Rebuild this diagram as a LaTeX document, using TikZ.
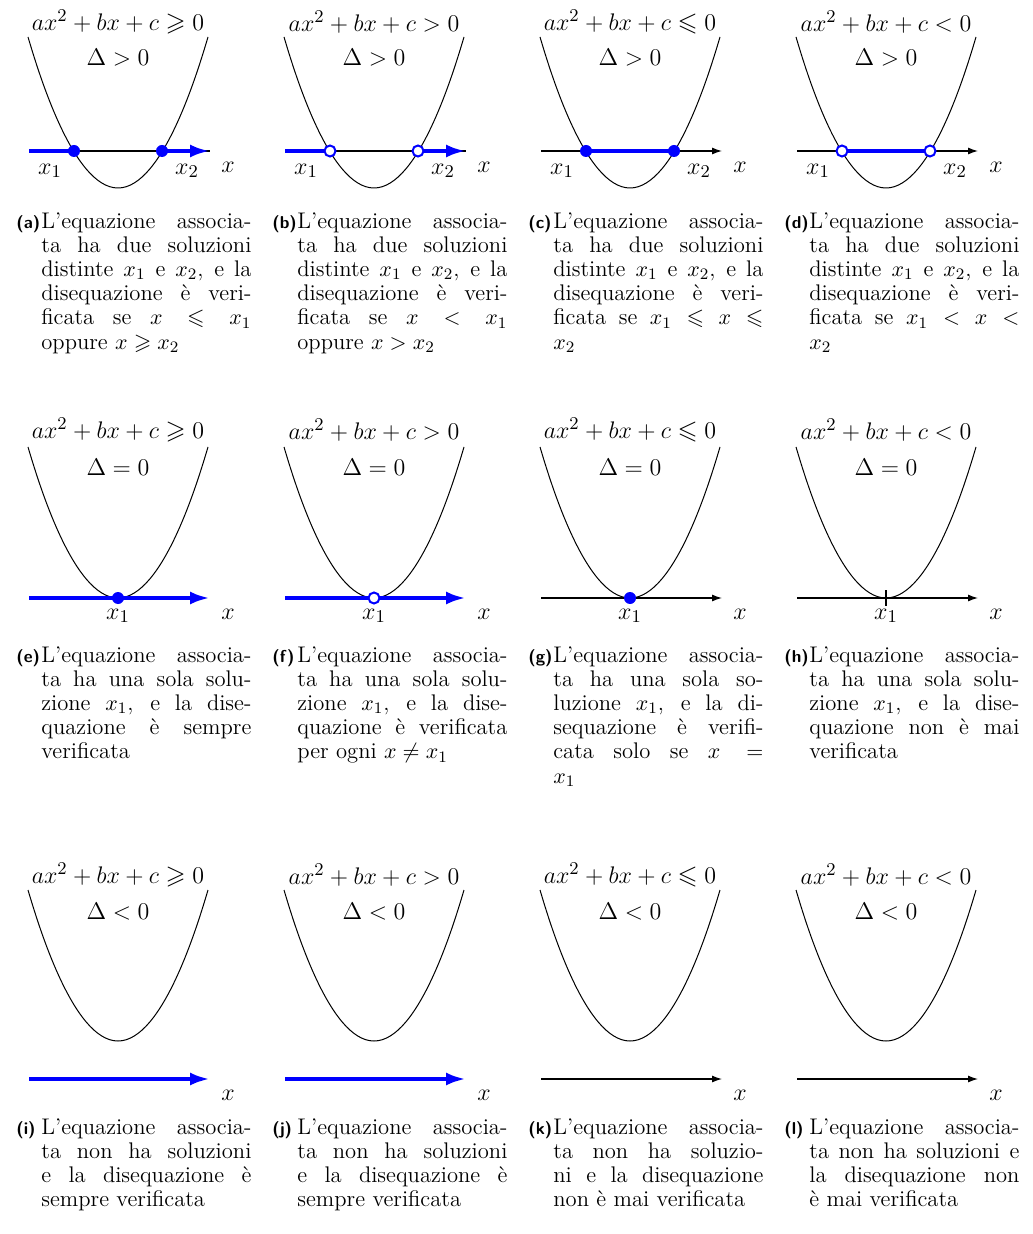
\documentclass[tikz,border=0pt]{standalone}
\usepackage{amssymb}
\usepackage{tikz}
\usetikzlibrary{arrows.meta}

\newcommand{\caplab}[1]{\makebox[12.5pt][l]{\sffamily\bfseries\fontsize{8.6}{10}\selectfont(#1)}}

\begin{document}
\begin{tikzpicture}[x=0.5pt,y=-0.5pt,
 parab/.style={line width=0.5pt},
 axisline/.style={line width=0.6pt},
 axisarr/.style={axisline,-{Latex[length=5pt,width=3.5pt]}},
 solline/.style={blue,line width=2pt},
 solarr/.style={solline,-{Latex[length=10pt,width=6.5pt]}},
 dotfull/.style={circle,fill=blue,inner sep=0pt,minimum size=6pt},
 dothole/.style={circle,draw=blue,fill=white,line width=1pt,inner sep=0pt,minimum size=5.5pt},
 mlabel/.style={inner sep=0pt,font=\fontsize{12.9}{15}\selectfont},
 subcap/.style={anchor=north west,inner sep=0pt,text width=117.5pt,align=justify,
  font=\fontsize{11.3}{12.1}\selectfont,execute at begin node={\hangindent=12.5pt\hangafter=1\noindent}}]

\useasboundingbox (0,0) rectangle (1032,1234);

% first row: two roots
\begin{scope}[shift={(118,151)}]
\draw[parab] (-90,-114) parabola bend (0,37) (90,-114);
\node[mlabel] (fa) at (0,-129) {$ax^2+bx+c\geqslant 0$};
\node[mlabel] (da) at (0,-93) {$\Delta>0$};
\coordinate (la) at (-89,0); \coordinate (ra) at (92,0);
\coordinate (pa1) at (-44,0); \coordinate (pa2) at (44,0);
\draw[axisline] (la) -- (ra);
\draw[solline] (la) -- (pa1);
\draw[solarr] (pa2) -- (ra);
\node[dotfull] (sa1) at (pa1) {}; \node[dotfull] (sa2) at (pa2) {};
\node[mlabel] (xa1) at (-68,20) {$x_1$};
\node[mlabel] (xa2) at (69,20) {$x_2$};
\node[mlabel] (xa) at (110,16) {$x$};
\end{scope}

\begin{scope}[shift={(374,151)}]
\draw[parab] (-90,-114) parabola bend (0,37) (90,-114);
\node[mlabel] (fb) at (0,-129) {$ax^2+bx+c>0$};
\node[mlabel] (db) at (0,-93) {$\Delta>0$};
\coordinate (lb) at (-89,0); \coordinate (rb) at (92,0);
\coordinate (pb1) at (-44,0); \coordinate (pb2) at (44,0);
\draw[axisline] (lb) -- (rb);
\draw[solline] (lb) -- (pb1);
\draw[solarr] (pb2) -- (rb);
\node[dothole] (sb1) at (pb1) {}; \node[dothole] (sb2) at (pb2) {};
\node[mlabel] (xb1) at (-68,20) {$x_1$};
\node[mlabel] (xb2) at (69,20) {$x_2$};
\node[mlabel] (xb) at (110,16) {$x$};
\end{scope}

\begin{scope}[shift={(630,151)}]
\draw[parab] (-90,-114) parabola bend (0,37) (90,-114);
\node[mlabel] (fc) at (0,-129) {$ax^2+bx+c\leqslant 0$};
\node[mlabel] (dc) at (0,-93) {$\Delta>0$};
\coordinate (lc) at (-89,0); \coordinate (rc) at (92,0);
\coordinate (pc1) at (-44,0); \coordinate (pc2) at (44,0);
\draw[axisarr] (lc) -- (rc);
\draw[solline] (pc1) -- (pc2);
\node[dotfull] (sc1) at (pc1) {}; \node[dotfull] (sc2) at (pc2) {};
\node[mlabel] (xc1) at (-68,20) {$x_1$};
\node[mlabel] (xc2) at (69,20) {$x_2$};
\node[mlabel] (xc) at (110,16) {$x$};
\end{scope}

\begin{scope}[shift={(886,151)}]
\draw[parab] (-90,-114) parabola bend (0,37) (90,-114);
\node[mlabel] (fd) at (0,-129) {$ax^2+bx+c<0$};
\node[mlabel] (dd) at (0,-93) {$\Delta>0$};
\coordinate (ld) at (-89,0); \coordinate (rd) at (92,0);
\coordinate (pd1) at (-44,0); \coordinate (pd2) at (44,0);
\draw[axisarr] (ld) -- (rd);
\draw[solline] (pd1) -- (pd2);
\node[dothole] (sd1) at (pd1) {}; \node[dothole] (sd2) at (pd2) {};
\node[mlabel] (xd1) at (-68,20) {$x_1$};
\node[mlabel] (xd2) at (69,20) {$x_2$};
\node[mlabel] (xd) at (110,16) {$x$};
\end{scope}

\node[subcap] (capa) at (16,212) {\caplab{a}L'equazione associa-\linebreak ta ha due soluzioni\linebreak distinte $x_1$ e $x_2$, e la\linebreak disequazione è veri-\linebreak ficata se $x\leqslant x_1$\linebreak oppure $x\geqslant x_2$};
\node[subcap] (capb) at (272,212) {\caplab{b}L'equazione associa-\linebreak ta ha due soluzioni\linebreak distinte $x_1$ e $x_2$, e la\linebreak disequazione è veri-\linebreak ficata se $x<x_1$\linebreak oppure $x>x_2$};
\node[subcap] (capc) at (528,212) {\caplab{c}L'equazione associa-\linebreak ta ha due soluzioni\linebreak distinte $x_1$ e $x_2$, e la\linebreak disequazione è veri-\linebreak ficata se $x_1\leqslant x\leqslant$\linebreak $x_2$};
\node[subcap] (capd) at (784,212) {\caplab{d}L'equazione associa-\linebreak ta ha due soluzioni\linebreak distinte $x_1$ e $x_2$, e la\linebreak disequazione è veri-\linebreak ficata se $x_1<x<$\linebreak $x_2$};

% second row: one root
\begin{scope}[shift={(118,598)}]
\draw[parab] (-90,-151) parabola bend (0,0) (90,-151);
\node[mlabel] (fe) at (0,-168) {$ax^2+bx+c\geqslant 0$};
\node[mlabel] (de) at (0,-131) {$\Delta=0$};
\coordinate (le) at (-89,0); \coordinate (re) at (92,0);
\coordinate (pe) at (0,0);
\draw[solarr] (le) -- (re);
\node[dotfull] (se) at (pe) {};
\node[mlabel] (xe1) at (0,18) {$x_1$};
\node[mlabel] (xe) at (110,16) {$x$};
\end{scope}

\begin{scope}[shift={(374,598)}]
\draw[parab] (-90,-151) parabola bend (0,0) (90,-151);
\node[mlabel] (ff) at (0,-168) {$ax^2+bx+c>0$};
\node[mlabel] (df) at (0,-131) {$\Delta=0$};
\coordinate (lf) at (-89,0); \coordinate (rf) at (92,0);
\coordinate (pf) at (0,0);
\draw[solarr] (lf) -- (rf);
\node[dothole] (sf) at (pf) {};
\node[mlabel] (xf1) at (0,18) {$x_1$};
\node[mlabel] (xf) at (110,16) {$x$};
\end{scope}

\begin{scope}[shift={(630,598)}]
\draw[parab] (-90,-151) parabola bend (0,0) (90,-151);
\node[mlabel] (fg) at (0,-168) {$ax^2+bx+c\leqslant 0$};
\node[mlabel] (dg) at (0,-131) {$\Delta=0$};
\coordinate (lg) at (-89,0); \coordinate (rg) at (92,0);
\coordinate (pg) at (0,0);
\draw[axisarr] (lg) -- (rg);
\node[dotfull] (sg) at (pg) {};
\node[mlabel] (xg1) at (0,18) {$x_1$};
\node[mlabel] (xg) at (110,16) {$x$};
\end{scope}

\begin{scope}[shift={(886,598)}]
\draw[parab] (-90,-151) parabola bend (0,0) (90,-151);
\node[mlabel] (fh) at (0,-168) {$ax^2+bx+c<0$};
\node[mlabel] (dh) at (0,-131) {$\Delta=0$};
\coordinate (lh) at (-89,0); \coordinate (rh) at (92,0);
\coordinate (th1) at (0,-8); \coordinate (th2) at (0,8);
\draw[axisarr] (lh) -- (rh);
\draw[axisline] (th1) -- (th2);
\node[mlabel] (xh1) at (0,18) {$x_1$};
\node[mlabel] (xh) at (110,16) {$x$};
\end{scope}

\node[subcap] (cape) at (16,646) {\caplab{e}L'equazione associa-\linebreak ta ha una sola solu-\linebreak zione $x_1$, e la dise-\linebreak quazione è sempre\linebreak verificata};
\node[subcap] (capf) at (272,646) {\caplab{f}L'equazione associa-\linebreak ta ha una sola solu-\linebreak zione $x_1$, e la dise-\linebreak quazione è verificata\linebreak per ogni $x\neq x_1$};
\node[subcap] (capg) at (528,646) {\caplab{g}L'equazione associa-\linebreak ta ha una sola so-\linebreak luzione $x_1$, e la di-\linebreak sequazione è verifi-\linebreak cata solo se $x=$\linebreak $x_1$};
\node[subcap] (caph) at (784,646) {\caplab{h}L'equazione associa-\linebreak ta ha una sola solu-\linebreak zione $x_1$, e la dise-\linebreak quazione non è mai\linebreak verificata};

% third row: no roots
\begin{scope}[shift={(118,1079)}]
\draw[parab] (-90,-189) parabola bend (0,-38) (90,-189);
\node[mlabel] (fi) at (0,-204) {$ax^2+bx+c\geqslant 0$};
\node[mlabel] (di) at (0,-167) {$\Delta<0$};
\coordinate (li) at (-89,0); \coordinate (ri) at (92,0);
\draw[solarr] (li) -- (ri);
\node[mlabel] (xi) at (110,16) {$x$};
\end{scope}

\begin{scope}[shift={(374,1079)}]
\draw[parab] (-90,-189) parabola bend (0,-38) (90,-189);
\node[mlabel] (fj) at (0,-204) {$ax^2+bx+c>0$};
\node[mlabel] (dj) at (0,-167) {$\Delta<0$};
\coordinate (lj) at (-89,0); \coordinate (rj) at (92,0);
\draw[solarr] (lj) -- (rj);
\node[mlabel] (xj) at (110,16) {$x$};
\end{scope}

\begin{scope}[shift={(630,1079)}]
\draw[parab] (-90,-189) parabola bend (0,-38) (90,-189);
\node[mlabel] (fk) at (0,-204) {$ax^2+bx+c\leqslant 0$};
\node[mlabel] (dk) at (0,-167) {$\Delta<0$};
\coordinate (lk) at (-89,0); \coordinate (rk) at (92,0);
\draw[axisarr] (lk) -- (rk);
\node[mlabel] (xk) at (110,16) {$x$};
\end{scope}

\begin{scope}[shift={(886,1079)}]
\draw[parab] (-90,-189) parabola bend (0,-38) (90,-189);
\node[mlabel] (fl) at (0,-204) {$ax^2+bx+c<0$};
\node[mlabel] (dl) at (0,-167) {$\Delta<0$};
\coordinate (ll) at (-89,0); \coordinate (rl) at (92,0);
\draw[axisarr] (ll) -- (rl);
\node[mlabel] (xl) at (110,16) {$x$};
\end{scope}

\node[subcap] (capi) at (16,1118) {\caplab{i}L'equazione associa-\linebreak ta non ha soluzioni\linebreak e la disequazione è\linebreak sempre verificata};
\node[subcap] (capj) at (272,1118) {\caplab{j}L'equazione associa-\linebreak ta non ha soluzioni\linebreak e la disequazione è\linebreak sempre verificata};
\node[subcap] (capk) at (528,1118) {\caplab{k}L'equazione associa-\linebreak ta non ha soluzio-\linebreak ni e la disequazione\linebreak non è mai verificata};
\node[subcap] (capl) at (784,1118) {\caplab{l}L'equazione associa-\linebreak ta non ha soluzioni e\linebreak la disequazione non\linebreak è mai verificata};
\end{tikzpicture}
\end{document}
